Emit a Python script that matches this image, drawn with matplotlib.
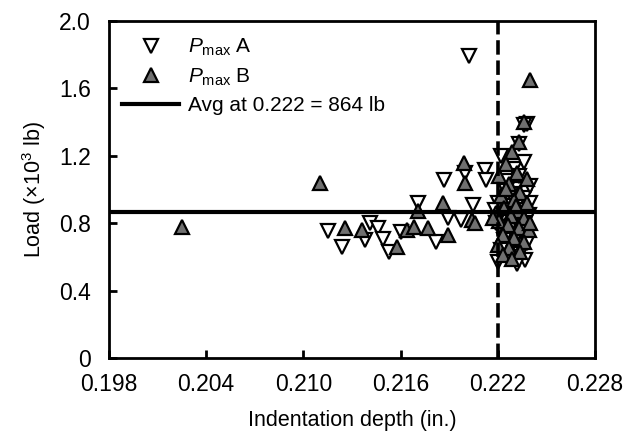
import numpy as np
import matplotlib
matplotlib.use("Agg")
import matplotlib.pyplot as plt
from matplotlib.ticker import FuncFormatter

plt.rcParams['font.family'] = ['Liberation Sans', 'DejaVu Sans']
plt.rcParams['mathtext.fontset'] = 'custom'
plt.rcParams['mathtext.rm'] = 'Liberation Sans'
plt.rcParams['mathtext.it'] = 'Liberation Sans:italic'

# P_max A (down triangles)
depth_a = [0.2115, 0.2124, 0.2138, 0.2141, 0.2146, 0.2149, 0.2153, 0.2160, 0.2171, 0.2182,
           0.2189, 0.2187, 0.2197, 0.2200, 0.2205, 0.2212, 0.2213, 0.2202,
           0.2222, 0.2230, 0.2236, 0.2238, 0.2233, 0.2225, 0.2232, 0.2228, 0.2236, 0.2220,
           0.2226, 0.2234, 0.2239, 0.2223, 0.2230, 0.2237, 0.2221, 0.2227, 0.2235, 0.2231,
           0.2224, 0.2238, 0.2229, 0.2222, 0.2234, 0.2226, 0.2237, 0.2220, 0.2232, 0.2218,
           0.2219, 0.2225, 0.2233, 0.2240, 0.2240, 0.2236]
load_a = [0.754, 0.659, 0.70, 0.80, 0.77, 0.706, 0.63, 0.748, 0.92, 0.69,
          0.83, 1.056, 0.82, 1.10, 0.91, 1.115, 1.056, 1.79,
          1.20, 1.12, 1.16, 1.39, 1.27, 1.05, 1.00, 0.97, 0.95, 0.92,
          0.90, 0.88, 0.85, 0.84, 0.82, 0.80, 0.78, 0.76, 0.75, 0.72,
          0.70, 0.68, 0.66, 0.64, 0.62, 0.60, 0.58, 0.57, 0.56, 0.88,
          0.80, 0.99, 1.08, 1.02, 0.92, 1.38]

# P_max B (up triangles)
depth_b = [0.2025, 0.2110, 0.2126, 0.2136, 0.2158, 0.2164, 0.2168, 0.2171, 0.2177, 0.2186,
           0.2189, 0.2199, 0.2200, 0.2204, 0.2206,
           0.2240, 0.2236, 0.2233, 0.2229, 0.2225, 0.2232, 0.2238, 0.2221, 0.2227, 0.2234,
           0.2222, 0.2230, 0.2238, 0.2224, 0.2232, 0.2219, 0.2228, 0.2236, 0.2221, 0.2226,
           0.2233, 0.2239, 0.2223, 0.2230, 0.2236, 0.2220, 0.2227, 0.2234, 0.2223, 0.2229,
           0.2217, 0.2240, 0.2225, 0.2231]
load_b = [0.78, 1.04, 0.77, 0.76, 0.66, 0.76, 0.78, 0.87, 0.77, 0.92,
          0.73, 1.157, 1.04, 0.82, 0.80,
          1.65, 1.40, 1.28, 1.22, 1.15, 1.10, 1.06, 1.08, 1.03, 0.98,
          0.96, 0.94, 0.92, 0.89, 0.87, 0.86, 0.84, 0.83, 0.81, 0.79,
          0.77, 0.76, 0.73, 0.71, 0.69, 0.67, 0.65, 0.63, 0.61, 0.59,
          0.83, 0.80, 1.00, 0.90]

avg_load = 0.864
avg_depth = 0.222

fig = plt.figure(figsize=(6.29, 4.34), dpi=100)
ax = fig.add_axes([0.173, 0.175, 0.773, 0.777])

ms = 10
ax.plot(depth_a, load_a, linestyle='none', marker='v', ms=ms, mfc='white', mec='black', mew=1.6,
        label=r'$P_{\rm max}$ A', zorder=3)
ax.plot(depth_b, load_b, linestyle='none', marker='^', ms=ms, mfc='#707070', mec='black', mew=1.6,
        label=r'$P_{\rm max}$ B', zorder=3)
ax.axhline(avg_load, color='black', lw=3, label='Avg at 0.222 = 864 lb', zorder=4)
ax.axvline(avg_depth, color='black', lw=2.6, linestyle=(0, (4, 1.6)), zorder=4)

ax.set_xlim(0.198, 0.228)
ax.set_ylim(0, 2.0)
ax.set_xticks(np.arange(0.198, 0.2281, 0.006))
ax.set_yticks(np.arange(0, 2.01, 0.4))
ax.xaxis.set_major_formatter(FuncFormatter(lambda v, p: '%.3f' % v))
ax.yaxis.set_major_formatter(FuncFormatter(lambda v, p: '0' if abs(v) < 1e-9 else '%.1f' % v))
ax.tick_params(direction='in', length=6, width=2, labelsize=16.5)
ax.tick_params(axis='x', pad=11)
ax.tick_params(axis='y', pad=13)
for s in ax.spines.values():
    s.set_linewidth(2)

ax.set_xlabel('Indentation depth (in.)', fontsize=15.5, labelpad=10)
ax.set_ylabel(r'Load ($\times$10$^3$ lb)', fontsize=15.5, labelpad=8)

ax.legend(loc='upper left', bbox_to_anchor=(-0.002, 0.995), frameon=False, fontsize=15,
          handlelength=2.7, handletextpad=0.45, labelspacing=0.4, borderaxespad=0.3)

fig.savefig('out.png', dpi=100)
